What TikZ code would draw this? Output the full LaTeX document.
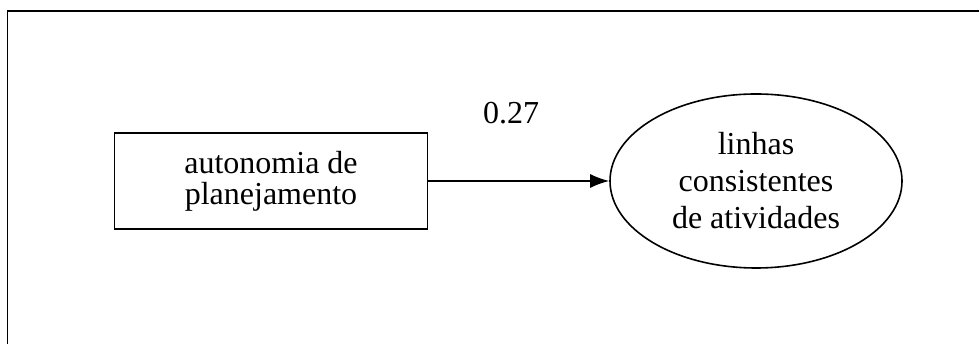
\documentclass[tikz,border=0pt]{standalone}
\usepackage{fontspec}
\setmainfont{Liberation Serif}
\usetikzlibrary{arrows.meta,shapes.geometric}
\begin{document}
\begin{tikzpicture}[x=1pt,y=1pt,line width=1.6pt,
		fonte/.style={font=\fontsize{32}{31}\selectfont},
		caixa/.style={draw,rectangle,minimum width=313pt,minimum height=96pt,align=center,fonte,inner sep=0pt},
		elipse/.style={draw,ellipse,minimum width=292pt,minimum height=174pt,align=center,inner sep=0pt,font=\fontsize{32}{37}\selectfont}]
				\useasboundingbox (0,0) rectangle (979,344);
				\draw[line width=1.8pt] (979,333)--(7.5,333)--(7.5,0);
				\node[caixa] (autonomia) at (271,163) {autonomia de\\planejamento};
				\node[elipse] (linhas) at (756,163) {linhas\\consistentes\\de atividades};
				\draw[-{Latex[length=19pt,width=14pt]}] (autonomia.east)--(linhas.west);
				\node[fonte] (coef) at (511,231) {0.27};
			\end{tikzpicture}
\end{document}
